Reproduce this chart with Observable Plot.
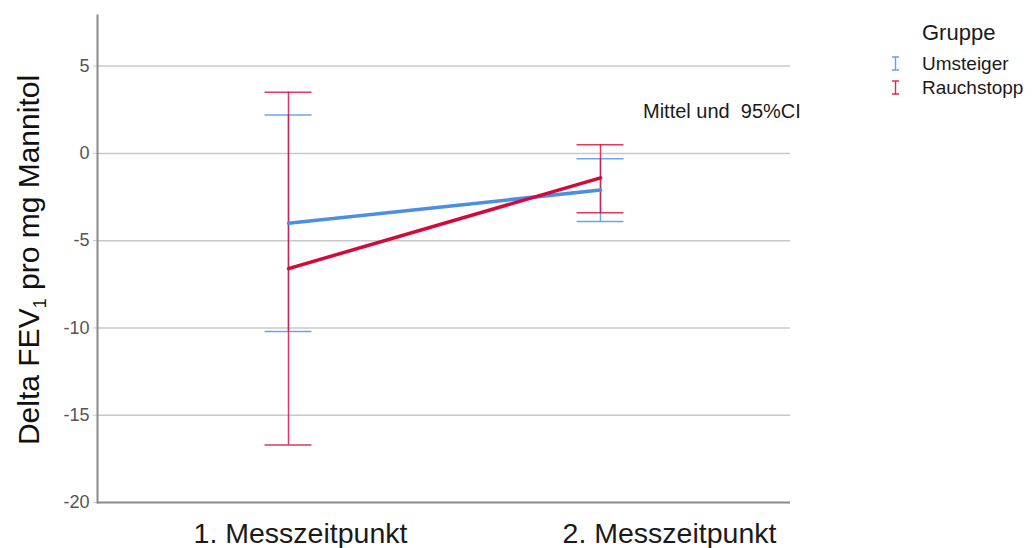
<!DOCTYPE html>
<html>
<head>
<meta charset="utf-8">
<script src="https://cdn.jsdelivr.net/npm/d3@7"></script>
<script src="https://cdn.jsdelivr.net/npm/@observablehq/plot@0.6"></script>
<style>
  html, body { margin: 0; padding: 0; background: #fff; }
  #wrap { position: relative; width: 1035px; height: 548px; }
</style>
</head>
<body>
<div id="wrap"></div>
<script>
// Measurement times and groups
const times = ["1. Messzeitpunkt", "2. Messzeitpunkt"];
const groups = ["Umsteiger", "Rauchstopp"];
const groupColors = ["#4a8fe3", "#d4083a"];

// Mean and 95% CI per group, in the order of `times`
const umsteigerMean = [-4.0, -2.1];
const umsteigerLow = [-10.2, -3.9];
const umsteigerHigh = [2.2, -0.3];
const rauchstoppMean = [-6.6, -1.4];
const rauchstoppLow = [-16.7, -3.4];
const rauchstoppHigh = [3.5, 0.5];

const yTicks = [5, 0, -5, -10, -15, -20];
const font = "'Liberation Sans', Arial, sans-serif";

const rows = [];
times.forEach((t, i) => {
  rows.push({group: groups[0], time: t, mean: umsteigerMean[i], low: umsteigerLow[i], high: umsteigerHigh[i]});
  rows.push({group: groups[1], time: t, mean: rauchstoppMean[i], low: rauchstoppLow[i], high: rauchstoppHigh[i]});
});
const byGroup = g => rows.filter(d => d.group === g);
const axisColor = "#8a8a8a";

const marks = [
  Plot.gridY(yTicks.slice(0, 5), {stroke: "#c8c8c8", strokeOpacity: 1, strokeWidth: 1.5}),
  Plot.axisY(yTicks, {tickSize: 4, stroke: "#c8c8c8", tickPadding: 4, fontSize: 18, fill: "#555",
                      label: null, tickFormat: d => String(d)}),
  // category labels sit slightly right of their points
  Plot.axisX([times[0]], {tickSize: 0, tickPadding: 20, fontSize: 28.5, fill: "#1a1a1a", label: null, dx: 12}),
  Plot.axisX([times[1]], {tickSize: 0, tickPadding: 20, fontSize: 28.5, fill: "#1a1a1a", label: null, dx: 69})
];
groups.forEach((g, k) => {
  const data = byGroup(g);
  const c = groupColors[k];
  const bar = {stroke: c, strokeWidth: 1.5, strokeOpacity: 0.8};
  marks.push(
    Plot.ruleX(data, {x: "time", y1: "low", y2: "high", ...bar}),
    Plot.ruleY(data, {x1: "time", x2: "time", y: "low", insetLeft: -23.5, insetRight: -23.5, ...bar}),
    Plot.ruleY(data, {x1: "time", x2: "time", y: "high", insetLeft: -23.5, insetRight: -23.5, ...bar})
  );
});
groups.forEach((g, k) => {
  marks.push(Plot.line(byGroup(g), {x: "time", y: "mean", stroke: groupColors[k], strokeWidth: 3.5}));
});
marks.push(
  Plot.frame({anchor: "left", stroke: axisColor, strokeWidth: 2}),
  Plot.ruleY([-20], {stroke: axisColor, strokeWidth: 2})
);

const chart = Plot.plot({
  width: 1035,
  height: 548,
  marginLeft: 97,
  marginRight: 245,
  marginTop: 15,
  marginBottom: 46,
  style: {fontFamily: font, background: "#fff"},
  x: {type: "point", domain: times, padding: 0.61},
  y: {domain: [-20, 7.9]},
  marks
});

const svg = d3.select(chart);

// Rotated y-axis title with a subscript
const yTitle = svg.append("text")
  .attr("transform", "translate(39,260) rotate(-90)")
  .attr("text-anchor", "middle")
  .attr("font-size", 30)
  .attr("fill", "#111")
  .attr("font-family", font);
yTitle.append("tspan").text("Delta FEV");
yTitle.append("tspan").attr("font-size", 18).attr("dy", 7).text("1");
yTitle.append("tspan").attr("dy", -7).text(" pro mg Mannitol");

// Legend
const legend = svg.append("g").attr("font-family", font).attr("fill", "#1a1a1a").attr("text-anchor", "start");
legend.append("text").attr("x", 922).attr("y", 40).attr("font-size", 22).text("Gruppe");
groups.forEach((g, i) => {
  const base = 70 + i * 24;
  legend.append("path")
    .attr("d", `M${892},${base - 13}H${899}M${895.5},${base - 13}V${base}M${892},${base}H${899}`)
    .attr("stroke", groupColors[i]).attr("stroke-width", 1.4).attr("fill", "none").attr("stroke-opacity", 0.85);
  legend.append("text").attr("x", 922).attr("y", base).attr("font-size", 19).text(g);
});

// Statistic note
svg.append("text")
  .attr("x", 643).attr("y", 118)
  .attr("text-anchor", "start")
  .attr("font-family", font).attr("font-size", 20).attr("fill", "#1a1a1a")
  .style("white-space", "pre")
  .text("Mittel und  95%CI");

document.getElementById("wrap").appendChild(chart);
</script>
</body>
</html>
